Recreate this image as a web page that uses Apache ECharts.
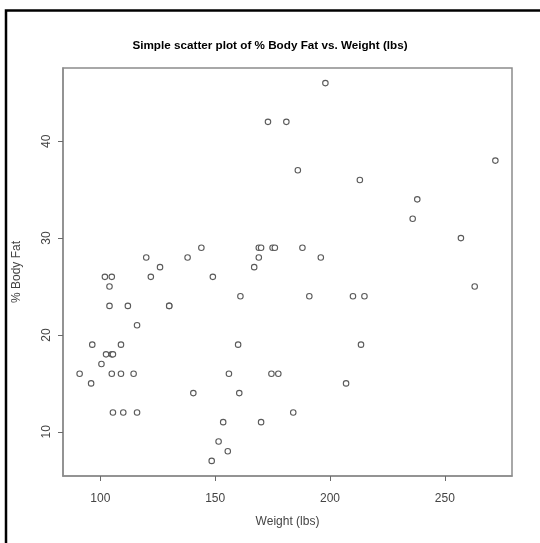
<!DOCTYPE html>
<html>
<head>
<meta charset="utf-8">
<script src="https://cdn.jsdelivr.net/npm/echarts@6/dist/echarts.min.js"></script>
<style>
  html, body { margin: 0; padding: 0; background: #fff; }
  #chart { width: 540px; height: 543px; }
</style>
</head>
<body>
<div id="chart"></div>
<script>
// Body weight (lbs) and % body fat for each subject
const weights = [173, 181, 198, 186, 213, 238, 236, 257, 272, 188, 196, 263, 191, 210, 215, 213.5,
  207, 184, 144, 169, 170, 175, 176, 169, 167, 149, 161, 160, 120, 138, 126, 122, 102, 105, 104,
  104, 112, 130, 130, 116, 96.5, 109, 102.5, 105, 105.5, 100.5, 91, 105, 109, 114.5, 96, 140.5,
  105.5, 110, 116, 156, 174.5, 177.5, 160.5, 153.5, 170, 151.5, 155.5, 148.5];
const bodyFat = [42, 42, 46, 37, 36, 34, 32, 30, 38, 29, 28, 25, 24, 24, 24, 19,
  15, 12, 29, 29, 29, 29, 29, 28, 27, 26, 24, 19, 28, 28, 27, 26, 26, 26, 25,
  23, 23, 23, 23, 21, 19, 19, 18, 18, 18, 17, 16, 16, 16, 16, 15, 14,
  12, 12, 12, 16, 16, 16, 14, 11, 11, 9, 8, 7];

const xTicks = [100, 150, 200, 250];
const yTicks = [10, 20, 30, 40];

const titleText = 'Simple scatter plot of % Body Fat vs. Weight (lbs)';
const xName = 'Weight (lbs)';
const yName = '% Body Fat';

// Extend each data range by 4% on both sides
function paddedRange(vals) {
  const lo = Math.min(...vals), hi = Math.max(...vals);
  const pad = (hi - lo) * 0.04;
  return [lo - pad, hi + pad];
}
const xRange = paddedRange(weights);
const yRange = paddedRange(bodyFat);

const points = weights.map((w, i) => [w, bodyFat[i]]);

const font = 'Liberation Sans, Arial, sans-serif';
const axisGrey = '#8c8c8c';
const tickColor = '#6a6a6a';
const tickLen = 5;
const chart = echarts.init(document.getElementById('chart'), null, { renderer: 'canvas' });

chart.setOption({
  backgroundColor: '#fff',
  animation: false,
  title: {
    text: titleText,
    left: 'center',
    top: 35,
    textStyle: { fontFamily: font, fontSize: 11.7, fontWeight: 'bold', color: '#000' }
  },
  grid: {
    left: 63, top: 68, width: 449, height: 408,
    show: true, borderColor: axisGrey, borderWidth: 1.5, backgroundColor: 'transparent'
  },
  xAxis: {
    type: 'value',
    min: xRange[0], max: xRange[1],
    splitLine: { show: false },
    axisLine: { show: true, lineStyle: { color: axisGrey, width: 1.5 } },
    axisTick: { show: true, length: tickLen, customValues: xTicks, lineStyle: { color: tickColor, width: 1 } },
    axisLabel: { customValues: xTicks, margin: 17, fontFamily: font, fontSize: 12, color: '#444' },
    name: xName,
    nameLocation: 'middle',
    nameGap: 40,
    nameTextStyle: { fontFamily: font, fontSize: 12, color: '#444' }
  },
  yAxis: {
    type: 'value',
    min: yRange[0], max: yRange[1],
    splitLine: { show: false },
    axisLine: { show: true, lineStyle: { color: axisGrey, width: 1.5 } },
    axisTick: { show: true, length: tickLen, customValues: yTicks, lineStyle: { color: tickColor, width: 1 } },
    axisLabel: { customValues: yTicks, rotate: 90, margin: 10, fontFamily: font, fontSize: 12, color: '#444' },
    name: yName,
    nameLocation: 'middle',
    nameGap: 40,
    nameTextStyle: { fontFamily: font, fontSize: 12, color: '#444' }
  },
  series: [{
    type: 'scatter',
    data: points,
    symbol: 'circle',
    symbolSize: 5.5,
    itemStyle: { color: '#fff', borderColor: '#5a5a5a', borderWidth: 1.1, opacity: 1 }
  }],
  graphic: [{
    type: 'rect',
    silent: true,
    shape: { x: 6, y: 10.5, width: 600, height: 600 },
    style: { fill: 'none', stroke: '#000', lineWidth: 2.5 }
  }]
});
</script>
</body>
</html>
